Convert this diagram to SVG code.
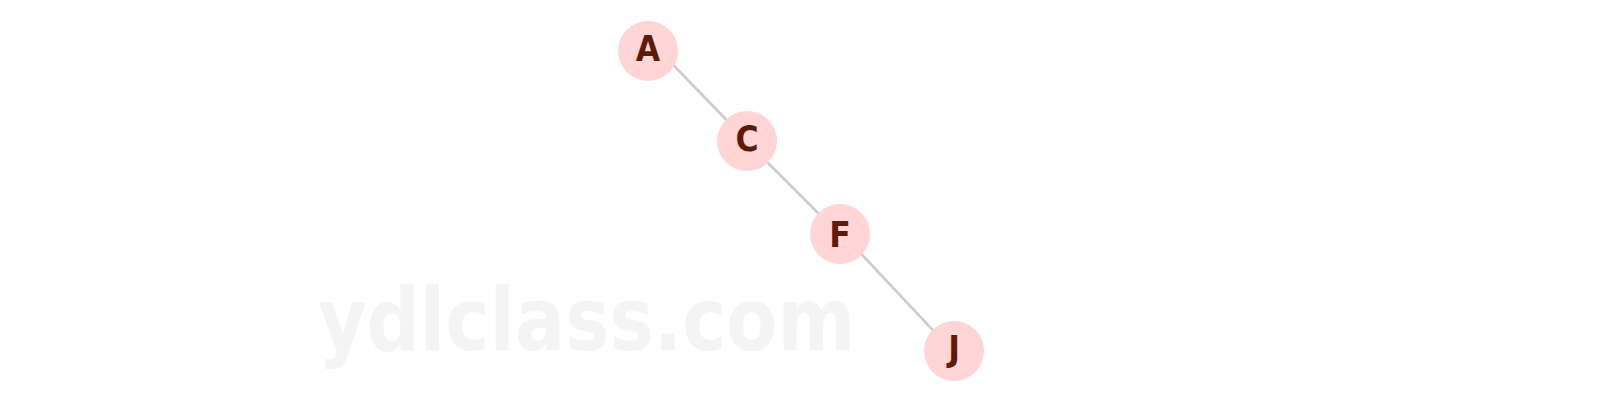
<svg xmlns="http://www.w3.org/2000/svg" width="1599" height="402" viewBox="0 0 1599 402">
<style>
.edge{stroke:#cccccc;stroke-width:2.7;fill:none}
.node circle{fill:#ffd5d5}
.node text{font-family:"DejaVu Sans Condensed","DejaVu Sans",sans-serif;font-weight:bold;font-size:35px;fill:#5c1a08;text-anchor:middle;dominant-baseline:central}
.wm{font-family:"DejaVu Sans Condensed","DejaVu Sans",sans-serif;font-weight:bold;font-size:88px;fill:#f4f4f4}
</style>
<rect width="1599" height="402" fill="#ffffff"/>
<text class="wm" x="318" y="350" textLength="537" lengthAdjust="spacingAndGlyphs">ydlclass.com</text>
<g id="edges">
<line class="edge" x1="670.5" y1="62.1" x2="727.8" y2="121.2"/>
<line class="edge" x1="765.5" y1="160.5" x2="819.5" y2="214.5"/>
<line class="edge" x1="858.9" y1="251.4" x2="939.4" y2="337.2"/>
</g>
<g id="node-A" class="node"><circle cx="648" cy="51" r="30"/><text x="648" y="49">A</text></g>
<g id="node-C" class="node"><circle cx="747" cy="141" r="30"/><text x="747" y="139">C</text></g>
<g id="node-F" class="node"><circle cx="840" cy="234" r="30"/><text x="840" y="235">F</text></g>
<g id="node-J" class="node"><circle cx="954" cy="351" r="30"/><text x="954" y="349">J</text></g>
</svg>
